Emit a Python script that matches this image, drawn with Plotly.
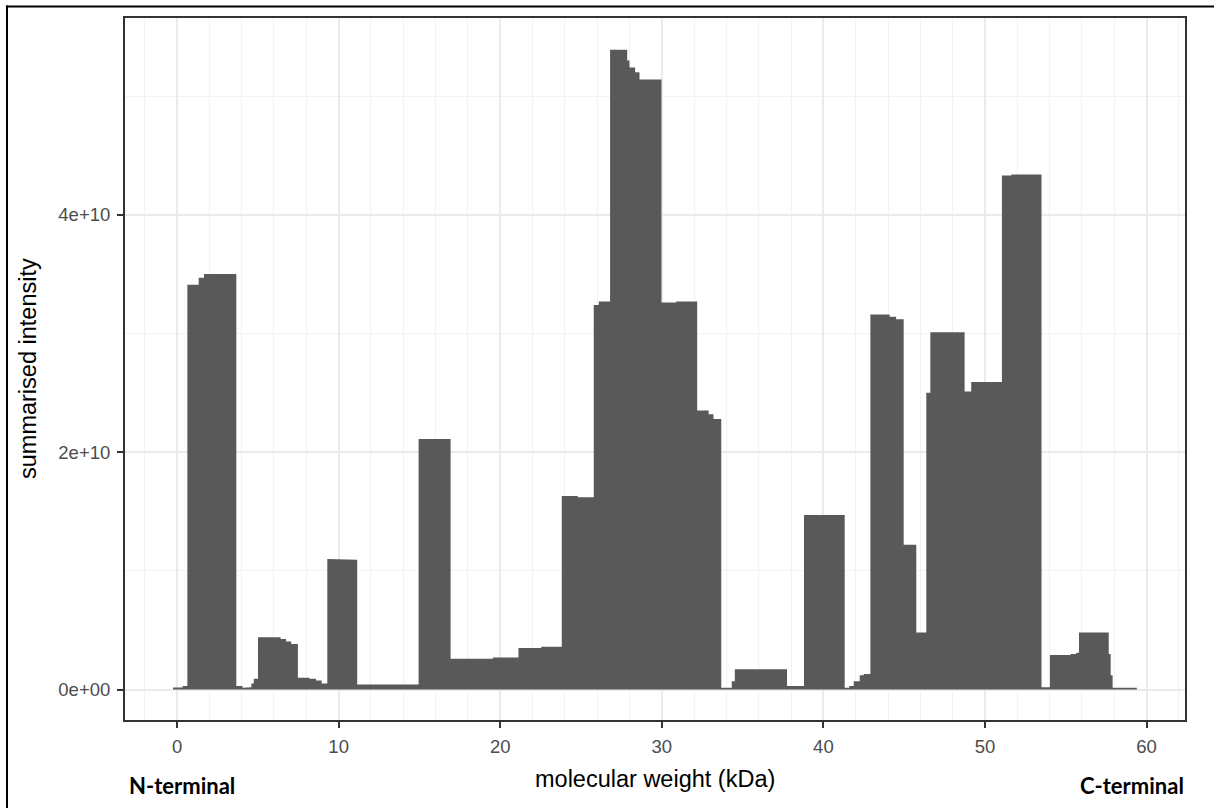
import plotly.graph_objects as go

# Peptide segments: start (kDa), end (kDa), summarised intensity (units of 1e10)
seg_start = [-0.25, 0.35, 0.64, 1.34, 1.67, 3.67, 4.05, 4.39, 4.60, 4.75,
             5.01, 6.41, 6.75, 7.07, 7.48, 8.20, 8.60, 8.95, 9.30, 10.50,
             11.15, 14.95, 16.93, 19.55, 21.13, 22.54, 23.81, 24.80, 25.79, 26.10,
             26.80, 27.86, 28.00, 28.35, 28.62, 29.98, 30.89, 32.19, 32.90, 33.20,
             33.68, 34.33, 34.52, 37.75, 38.80, 41.32, 41.60, 41.88, 42.25, 42.50,
             42.91, 44.10, 44.50, 44.97, 45.75, 46.37, 46.62, 48.74, 49.15, 51.05,
             51.63, 53.50, 54.02, 55.30, 55.65, 55.82, 57.66, 57.78, 57.90]
seg_end = [0.35, 0.64, 1.34, 1.67, 3.67, 4.05, 4.39, 4.60, 4.75, 5.01,
           6.41, 6.75, 7.07, 7.48, 8.20, 8.60, 8.95, 9.30, 10.50, 11.15,
           14.95, 16.93, 19.55, 21.13, 22.54, 23.81, 24.80, 25.79, 26.10, 26.80,
           27.86, 28.00, 28.35, 28.62, 29.98, 30.89, 32.19, 32.90, 33.20, 33.68,
           34.33, 34.52, 37.75, 38.80, 41.32, 41.60, 41.88, 42.25, 42.50, 42.91,
           44.10, 44.50, 44.97, 45.75, 46.37, 46.62, 48.74, 49.15, 51.05, 51.63,
           53.50, 54.02, 55.30, 55.65, 55.82, 57.66, 57.78, 57.90, 59.40]
seg_intensity = [0.017, 0.03, 3.41, 3.47, 3.50, 0.03, 0.015, 0.02, 0.05, 0.09,
                 0.44, 0.425, 0.405, 0.384, 0.098, 0.09, 0.075, 0.05, 1.10, 1.094,
                 0.042, 2.11, 0.26, 0.27, 0.35, 0.36, 1.63, 1.62, 3.24, 3.27,
                 5.39, 5.30, 5.24, 5.20, 5.14, 3.26, 3.27, 2.35, 2.32, 2.28,
                 0.015, 0.07, 0.17, 0.03, 1.47, 0.015, 0.03, 0.07, 0.12, 0.13,
                 3.16, 3.14, 3.12, 1.22, 0.48, 2.50, 3.01, 2.51, 2.59, 4.33,
                 4.34, 0.02, 0.29, 0.30, 0.31, 0.48, 0.30, 0.12, 0.015]

x_ticks = [0, 10, 20, 30, 40, 50, 60]
y_ticks = [0, 2e10, 4e10]
y_tick_labels = ["0e+00", "2e+10", "4e+10"]

xs, ys = [], []
for s, e, v in zip(seg_start, seg_end, seg_intensity):
    xs += [s, e]
    ys += [v * 1e10, v * 1e10]

W, H = 1214, 808
L, R, T, B = 125, 29, 18, 88
pw, ph = W - L - R, H - T - B

def px(x):
    return (x - L) / pw

def py(y):
    return (H - B - y) / ph

fig = go.Figure()
fig.add_trace(go.Scatter(x=xs, y=ys, mode="lines", fill="tozeroy",
                         fillcolor="#595959", line=dict(width=0, color="#595959"),
                         hoverinfo="skip", showlegend=False))

axis_font = dict(family="Liberation Sans, Arial, sans-serif", size=18.5, color="#4D4D4D")
fig.update_layout(
    width=W, height=H,
    margin=dict(l=L, r=R, t=T, b=B),
    paper_bgcolor="white", plot_bgcolor="white",
    xaxis=dict(range=[-3.22, 62.38], tickvals=x_ticks, ticktext=[str(t) for t in x_ticks],
               showgrid=True, gridcolor="#EBEBEB", gridwidth=2,
               minor=dict(dtick=2, tick0=0, showgrid=True, gridcolor="#F2F2F2", gridwidth=1),
               ticks="outside", ticklen=6, tickwidth=2, tickcolor="#333333",
               tickfont=axis_font, zeroline=False,
               showline=True, linecolor="#333333", linewidth=2, mirror=True,
               ticklabelstandoff=3),
    yaxis=dict(range=[-0.257e10, 5.658e10], tickvals=y_ticks, ticktext=y_tick_labels,
               showgrid=True, gridcolor="#EBEBEB", gridwidth=2,
               minor=dict(dtick=1e10, tick0=0, showgrid=True, gridcolor="#F2F2F2", gridwidth=1),
               ticks="outside", ticklen=6, tickwidth=2, tickcolor="#333333",
               tickfont=axis_font, zeroline=False,
               showline=True, linecolor="#333333", linewidth=2, mirror=True,
               ticklabelstandoff=3),
)

title_font = dict(family="Liberation Sans, Arial, sans-serif", size=23.5, color="black")
bold_font = dict(family="Lato, Carlito, sans-serif", size=22, color="black")
fig.add_annotation(text="molecular weight (kDa)", xref="paper", yref="paper",
                   x=0.5, y=py(779), xanchor="center", yanchor="middle",
                   showarrow=False, font=title_font)
fig.add_annotation(text="summarised intensity", xref="paper", yref="paper",
                   x=px(28), y=0.5, xanchor="center", yanchor="middle", textangle=-90,
                   showarrow=False, font=title_font)
fig.add_annotation(text="<b>N-terminal</b>", xref="paper", yref="paper",
                   x=px(127), y=py(785), xanchor="left", yanchor="middle",
                   showarrow=False, font=bold_font)
fig.add_annotation(text="<b>C-terminal</b>", xref="paper", yref="paper",
                   x=px(1186), y=py(785), xanchor="right", yanchor="middle",
                   showarrow=False, font=bold_font)

# outer frame lines (left and top edges of the image border)
fig.add_shape(type="line", xref="paper", yref="paper",
              x0=px(7), x1=px(7), y0=py(5.5), y1=py(810), line=dict(color="black", width=2))
fig.add_shape(type="line", xref="paper", yref="paper",
              x0=px(6), x1=px(1216), y0=py(6.5), y1=py(6.5), line=dict(color="black", width=2))

fig.write_html("out.html")
